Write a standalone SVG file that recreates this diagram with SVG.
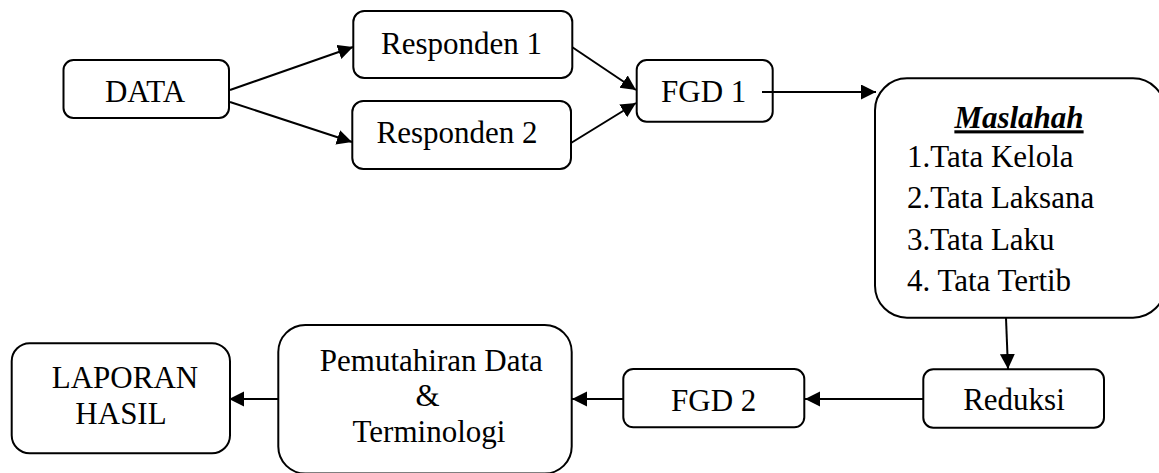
<svg xmlns="http://www.w3.org/2000/svg" width="1159" height="473" viewBox="0 0 1159 473">
<style>
.box{fill:#fff;stroke:#000;stroke-width:2}
.t{font-family:'Liberation Serif','DejaVu Serif',serif;font-size:31px;fill:#000}
.c{text-anchor:middle}
.ln{stroke:#000;stroke-width:2;fill:none;marker-end:url(#ah)}
.pl{stroke:#000;stroke-width:2;fill:none}
</style>
<defs>
<marker id="ah" markerUnits="userSpaceOnUse" markerWidth="16" markerHeight="16" refX="15" refY="7.5" orient="auto">
<path d="M0,0 L15,7.5 L0,15 z" fill="#000"/>
</marker>
</defs>
<rect width="1159" height="473" fill="#fff"/>
<g id="connectors">
<line class="ln" x1="230" y1="90" x2="353" y2="47"/>
<line class="ln" x1="230" y1="102" x2="352" y2="142"/>
<line class="ln" x1="572" y1="47" x2="636" y2="90"/>
<line class="ln" x1="571" y1="143" x2="636" y2="103"/>
<line class="ln" x1="762" y1="92" x2="876" y2="92"/>
<line class="ln" x1="1006" y1="318" x2="1008" y2="369"/>
<line class="ln" x1="923" y1="399" x2="805" y2="399"/>
<line class="ln" x1="623" y1="399" x2="572" y2="399"/>
<line class="ln" x1="278" y1="399" x2="229" y2="399"/>
</g>
<g font-family="Liberation Serif, DejaVu Serif, serif" font-size="31">
<g id="data">
<rect class="box" x="63.5" y="60" width="165.5" height="58" rx="10"/>
<text class="t c" x="145" y="102.3">DATA</text>
</g>
<g id="responden1">
<rect class="box" x="353.3" y="11" width="219" height="67" rx="11"/>
<text class="t c" x="461.5" y="54">Responden 1</text>
</g>
<g id="responden2">
<rect class="box" x="352.3" y="101" width="218.7" height="68" rx="11"/>
<text class="t c" x="457" y="143.3">Responden 2</text>
</g>
<g id="fgd1">
<rect class="box" x="636.7" y="60" width="136" height="61.7" rx="10"/>
<text class="t c" x="703.7" y="101.7">FGD 1</text>
</g>
<line class="pl" x1="762" y1="92" x2="780" y2="92"/>
<g id="maslahah">
<rect class="box" x="875" y="78.3" width="290" height="239.4" rx="32"/>
<text class="t c" x="1019" y="128.3" font-weight="bold" font-style="italic" text-decoration="underline">Maslahah</text>
<text class="t" x="907" y="166.7">1.Tata Kelola</text>
<text class="t" x="907" y="208">2.Tata Laksana</text>
<text class="t" x="907" y="249.5">3.Tata Laku</text>
<text class="t" x="907" y="291">4. Tata Tertib</text>
</g>
<g id="reduksi">
<rect class="box" x="923.3" y="369.3" width="180.7" height="58.4" rx="10"/>
<text class="t c" x="1014" y="410">Reduksi</text>
</g>
<g id="fgd2">
<rect class="box" x="623.3" y="369" width="181" height="58.3" rx="10"/>
<text class="t c" x="713.7" y="410.7">FGD 2</text>
</g>
<g id="pemutahiran">
<rect class="box" x="278.3" y="325" width="293.4" height="148.5" rx="27"/>
<text class="t c" x="431.3" y="370.7">Pemutahiran Data</text>
<text class="t c" x="427.5" y="406">&amp;</text>
<text class="t c" x="429" y="441.7">Terminologi</text>
</g>
<g id="laporan">
<rect class="box" x="11.7" y="343.3" width="218.3" height="110" rx="18"/>
<text class="t c" x="125" y="388.3">LAPORAN</text>
<text class="t c" x="121" y="424">HASIL</text>
</g>
</g>
</svg>
